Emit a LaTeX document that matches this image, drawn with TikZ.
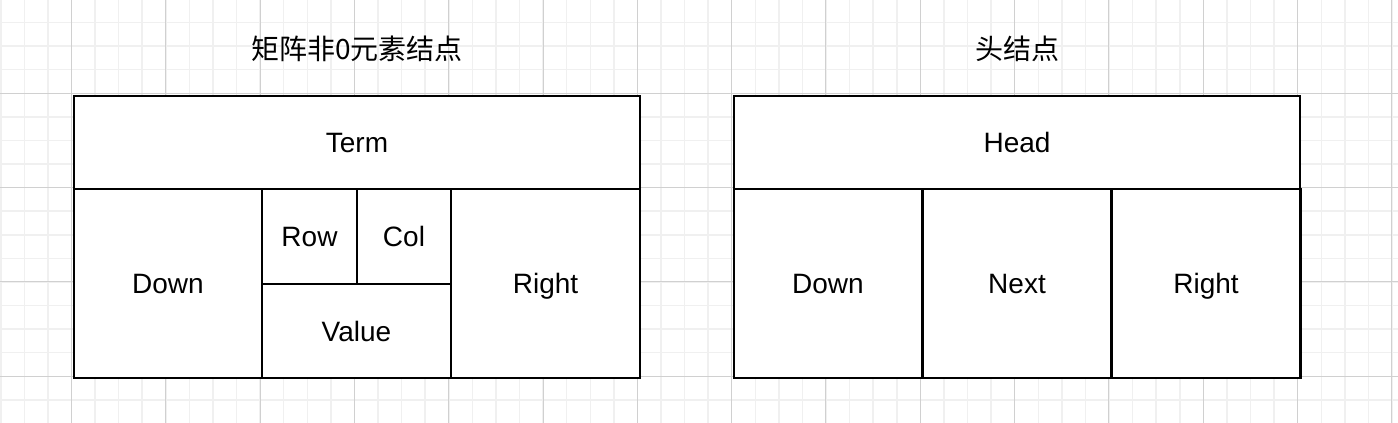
\documentclass[tikz,border=0pt]{standalone}
\usepackage{fontspec}
\setmainfont{Liberation Sans}
\newfontfamily\cjk{Noto Sans CJK SC}
\definecolor{gridminor}{HTML}{F0F0F0}
\definecolor{gridmajor}{HTML}{D0D0D0}
\tikzset{
  cell/.style={draw=black, fill=white, line width=1.25pt, inner sep=0pt,
    text height=12pt, text depth=2pt, font=\fontsize{14}{17}\selectfont},
  title/.style={font=\cjk\fontsize{14}{17}\selectfont},
  minorline/.style={gridminor, line width=0.75pt},
  majorline/.style={gridmajor, line width=0.5pt}
}
\begin{document}
\begin{tikzpicture}[x=0.5pt,y=-0.5pt]
	\useasboundingbox (0,0) rectangle (1398,423);
	% background grid
	\fill[white] (0,0) rectangle (1398,423);
	\foreach \i in {0,...,59} \draw[minorline] ({0.76+23.58*\i},0) -- ({0.76+23.58*\i},423);
	\foreach \j in {1,...,18} \draw[minorline] (0,{-1+23.58*\j}) -- (1398,{-1+23.58*\j});
	\foreach \i in {0,...,14} \draw[majorline] ({71.5+94.3*\i},0) -- ({71.5+94.3*\i},423);
	\foreach \j in {0,...,3} \draw[majorline] (0,{93.3+94.3*\j}) -- (1398,{93.3+94.3*\j});

	% matrix element node
	\node (ti1) at (357,49) [title] {矩阵非0元素结点};
	\node (term) at (357,142.5) [cell, minimum width=283pt, minimum height=46.5pt] {Term};
	\node (down) at (168,283.5) [cell, minimum width=94pt, minimum height=94.5pt] {Down};
	\node (row) at (309.5,236.5) [cell, minimum width=47.5pt, minimum height=47.5pt] {Row};
	\node (col) at (404,236.5) [cell, minimum width=47pt, minimum height=47.5pt] {Col};
	\node (value) at (356.5,331) [cell, minimum width=94.5pt, minimum height=47pt] {Value};
	\node (right) at (545.5,283.5) [cell, minimum width=94.5pt, minimum height=94.5pt] {Right};

	% head node
	\node (ti2) at (1017,49) [title] {头结点};
	\node (head) at (1017,142.5) [cell, minimum width=283pt, minimum height=46.5pt] {Head};
	\node (hdown) at (828,283.5) [cell, minimum width=94pt, minimum height=94.5pt] {Down};
	\node (next) at (1017,283.5) [cell, minimum width=94.5pt, minimum height=94.5pt] {Next};
	\node (hright) at (1206,283.5) [cell, minimum width=94.5pt, minimum height=94.5pt] {Right};
\end{tikzpicture}
\end{document}
